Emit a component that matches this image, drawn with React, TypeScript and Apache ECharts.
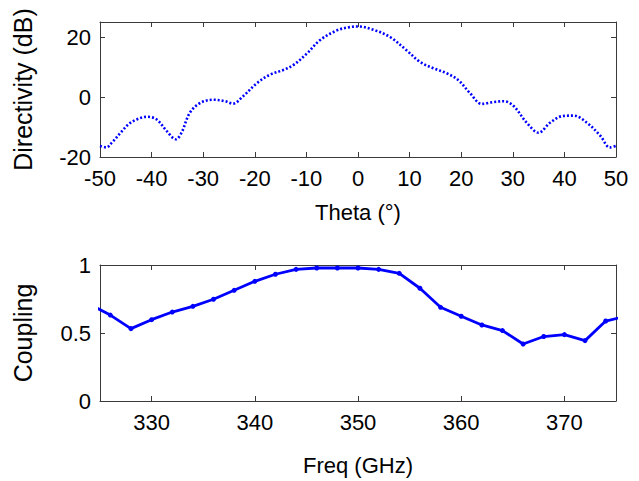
import React, { useEffect, useRef } from "react";
import * as echarts from "echarts";

const thetaVals = [-50, -48.8, -47.7, -46, -44.5, -42.9, -40.9, -39, -37.1, -35.3, -34.2, -32.6, -30.6, -28, -25.8, -24.2, -22.3, -19.6, -17.1, -14.5, -12.5, -9.9, -7.4, -4.1, -1.6, 0, 3, 6.2, 9.4, 12, 14.6, 17.2, 19.4, 21.7, 24, 26.2, 28.2, 30.1, 32.7, 35, 37.2, 39.5, 41.8, 44.4, 47, 48.8, 50];
const directivity = [-16.3, -16.8, -15.2, -11.9, -9.1, -7.5, -6.6, -7.5, -11.3, -14.1, -11.9, -5.3, -2.0, -0.9, -1.4, -2.2, 0.2, 4.6, 7.4, 9.0, 10.7, 14.5, 18.9, 22.2, 23.3, 23.5, 22.4, 20.0, 15.6, 11.7, 9.6, 7.9, 5.7, 1.3, -2.3, -1.7, -1.4, -2.9, -8.6, -11.9, -8.6, -6.4, -6.2, -8.6, -13.0, -16.8, -16.3];

const freqVals = [324, 326, 328, 330, 332, 334, 336, 338, 340, 342, 344, 346, 348, 350, 352, 354, 356, 358, 360, 362, 364, 366, 368, 370, 372, 374, 376];
const coupling = [0.712, 0.632, 0.532, 0.598, 0.654, 0.696, 0.748, 0.814, 0.88, 0.932, 0.968, 0.978, 0.978, 0.978, 0.968, 0.939, 0.829, 0.689, 0.623, 0.559, 0.518, 0.419, 0.474, 0.488, 0.444, 0.588, 0.624];

const thetaTicks = [-50, -40, -30, -20, -10, 0, 10, 20, 30, 40, 50];
const dirTicks = [-20, 0, 20];
const freqTicks = [330, 340, 350, 360, 370];

const FONT = "Liberation Sans, Arial, sans-serif";
const AXIS_COLOR = "#3a3a3a";
const BLUE = "#0000ff";

function axisBase(extra: any) {
  return {
    axisLine: { show: true, onZero: false, lineStyle: { color: AXIS_COLOR, width: 1 } },
    axisTick: { show: true, inside: true, length: 5, lineStyle: { color: AXIS_COLOR } },
    splitLine: { show: false },
    ...extra,
  };
}

export default function App() {
  const ref = useRef<HTMLDivElement>(null);
  useEffect(() => {
    if (!ref.current) return;
    const chart = echarts.init(ref.current, undefined, { renderer: "svg" });
    const labelStyle = { color: "#000", fontSize: 22, fontFamily: FONT };
    const nameStyle = { color: "#000", fontSize: 22, fontFamily: FONT };
    const tick = (vals: number[]) => ({ show: true, inside: true, length: 5, lineStyle: { color: AXIS_COLOR }, customValues: vals });
    chart.setOption({
      animation: false,
      backgroundColor: "#ffffff",
      grid: [
        { left: 100, right: 23, top: 22, height: 135, containLabel: false },
        { left: 100, right: 23, top: 265, height: 136, containLabel: false },
      ],
      xAxis: [
        axisBase({
          type: "value", gridIndex: 0, min: -50, max: 50, interval: 10, position: "bottom",
          axisLabel: { ...labelStyle, margin: 10, customValues: thetaTicks },
          axisTick: tick(thetaTicks),
          name: "Theta (°)", nameLocation: "middle", nameGap: 44, nameTextStyle: nameStyle,
        }),
        axisBase({
          type: "value", gridIndex: 0, min: -50, max: 50, interval: 10, position: "top",
          axisLabel: { show: false },
          axisTick: tick(thetaTicks),
        }),
        axisBase({
          type: "value", gridIndex: 1, min: 325, max: 375, position: "bottom",
          axisLabel: { ...labelStyle, margin: 10, customValues: freqTicks },
          axisTick: tick(freqTicks),
          name: "Freq (GHz)", nameLocation: "middle", nameGap: 53, nameTextStyle: nameStyle,
        }),
        axisBase({
          type: "value", gridIndex: 1, min: 325, max: 375, position: "top",
          axisLabel: { show: false },
          axisTick: tick(freqTicks),
        }),
      ],
      yAxis: [
        axisBase({
          type: "value", gridIndex: 0, min: -20, max: 25, position: "left",
          axisLabel: { ...labelStyle, margin: 9, customValues: dirTicks },
          axisTick: tick(dirTicks),
          name: "Directivity (dB)", nameLocation: "middle", nameGap: 65, nameTextStyle: { ...nameStyle, fontSize: 25 },
        }),
        axisBase({
          type: "value", gridIndex: 0, min: -20, max: 25, position: "right",
          axisLabel: { show: false },
          axisTick: tick(dirTicks),
        }),
        axisBase({
          type: "value", gridIndex: 1, min: 0, max: 1, interval: 0.5, position: "left",
          axisLabel: { ...labelStyle, margin: 9 },
          name: "Coupling", nameLocation: "middle", nameGap: 65, nameTextStyle: { ...nameStyle, fontSize: 25 },
        }),
        axisBase({
          type: "value", gridIndex: 1, min: 0, max: 1, interval: 0.5, position: "right",
          axisLabel: { show: false },
        }),
      ],
      series: [
        {
          type: "line", xAxisIndex: 0, yAxisIndex: 0,
          data: thetaVals.map((t, i) => [t, directivity[i]]),
          smooth: 0.35, showSymbol: false, clip: true,
          lineStyle: { color: BLUE, width: 2.6, type: [2, 2] },
        },
        {
          type: "line", xAxisIndex: 2, yAxisIndex: 2,
          data: freqVals.map((f, i) => [f, coupling[i]]),
          symbol: "circle", symbolSize: 5, clip: true,
          itemStyle: { color: BLUE },
          lineStyle: { color: BLUE, width: 2.8 },
        },
      ],
    });
    return () => chart.dispose();
  }, []);
  return <div ref={ref} style={{ position: "fixed", left: 0, top: 0, width: 639, height: 481, background: "#fff" }} />;
}
